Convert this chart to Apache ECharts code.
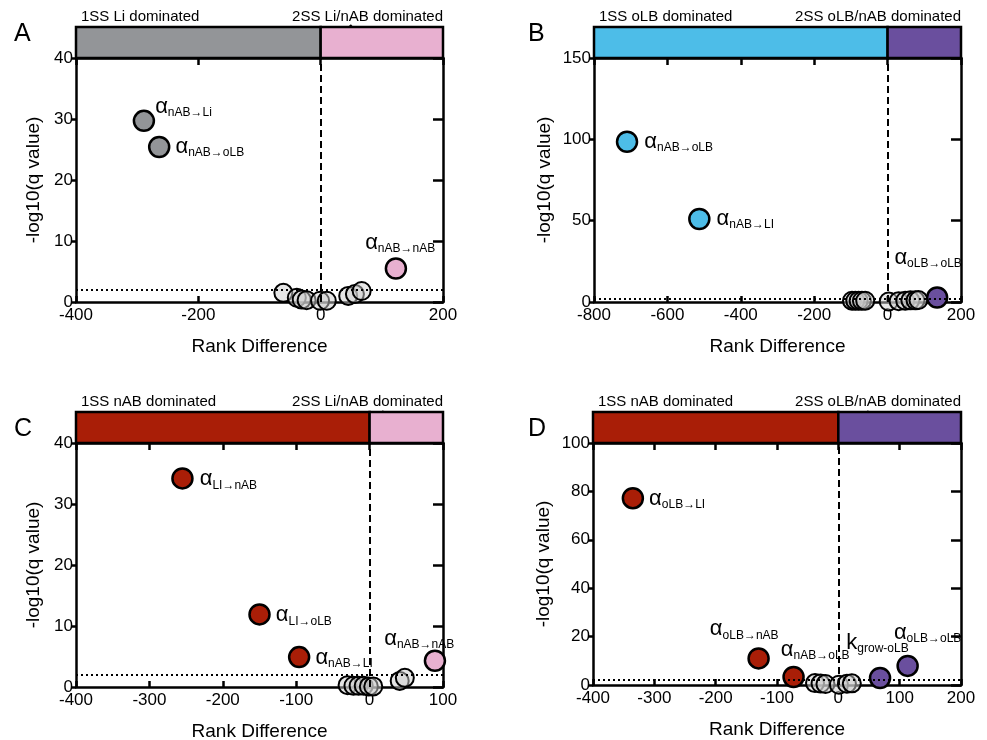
<!DOCTYPE html>
<html lang="en">
<head>
<meta charset="UTF-8" />
<title>Rank difference volcano plots</title>
<script src="https://cdn.jsdelivr.net/npm/echarts@6/dist/echarts.min.js"></script>
<style>
  html, body { margin: 0; padding: 0; background: #fff; }
  #main { width: 987px; height: 740px; }
</style>
</head>
<body>
<div id="main"></div>
<script>
const FONT = '"Liberation Sans", Arial, sans-serif';

// ---- data ----
// A
const aGreyX = [-61, -39, -31, -23, -1, 10, 45, 56, 67];
const aGreyY = [1.5, 0.7, 0.4, 0.3, 0.2, 0.2, 1.0, 1.3, 1.8];
const aHitX = [-289, -264, 123];
const aHitY = [29.7, 25.4, 5.5];
const aHitSym = ['α', 'α', 'α'];
const aHitSub = ['nAB→Li', 'nAB→oLB', 'nAB→nAB'];
// B
const bGreyX = [-97, -88, -79, -70, -61, 3, 30, 48, 62, 76, 84];
const bGreyY = [0.8, 0.8, 0.8, 0.8, 0.8, 0.3, 0.5, 0.8, 1.0, 1.0, 1.2];
const bHitX = [-710, -513, 135];
const bHitY = [98.5, 51, 2.8];
const bHitSym = ['α', 'α', 'α'];
const bHitSub = ['nAB→oLB', 'nAB→LI', 'oLB→oLB'];
// C
const cGreyX = [-30, -22, -15, -8, -1, 5, 41, 48];
const cGreyY = [0.3, 0.2, 0.2, 0.2, 0.1, 0.1, 1.0, 1.5];
const cHitX = [-255, -150, -96, 89];
const cHitY = [34.2, 11.9, 4.9, 4.3];
const cHitSym = ['α', 'α', 'α', 'α'];
const cHitSub = ['LI→nAB', 'LI→oLB', 'nAB→LI', 'nAB→nAB'];
// D
const dGreyX = [-38, -29, -21, 1, 14, 22];
const dGreyY = [0.8, 0.6, 0.4, 0.1, 0.5, 0.7];
const dHitX = [-335, -130, -73, 68, 113];
const dHitY = [77.2, 11, 3.3, 2.9, 7.9];
const dHitSym = ['α', 'α', 'α', 'k', 'α'];
const dHitSub = ['oLB→LI', 'oLB→nAB', 'nAB→oLB', 'grow-oLB', 'oLB→oLB'];

const panelLetters = ['A', 'B', 'C', 'D'];
const headerLeft = ['1SS Li dominated', '1SS oLB dominated', '1SS nAB dominated', '1SS nAB dominated'];
const headerRight = ['2SS Li/nAB dominated', '2SS oLB/nAB dominated', '2SS Li/nAB dominated', '2SS oLB/nAB dominated'];
const xRanges = [[-400, 200, 200], [-800, 200, 200], [-400, 100, 100], [-400, 200, 100]];
const yRanges = [[0, 40, 10], [0, 150, 50], [0, 40, 10], [0, 100, 20]];
const sigLine = 2; // -log10(0.01)

// ---- colours ----
const GREY = '#939598', PINK = '#e8b0d0', BLUE = '#4dbde8', PURPLE = '#6a4f9e', RED = '#a91e07';
const INK = '#000';

// ---- layout / styling per panel ----
const layout = [
  { left: 76, top: 58, width: 367, height: 244, yGap: 33, letter: [14, 22],
    head: [GREY, PINK], arrow: [350, 25, 365, 43],
    hitColor: [GREY, GREY, PINK], off: [[0, -14], [5, 0], [-42, -26]] },
  { left: 594, top: 58, width: 367, height: 244, yGap: 40, letter: [528, 22],
    head: [BLUE, PURPLE], arrow: [907, 27, 922, 44],
    hitColor: [BLUE, BLUE, PURPLE], off: [[6, 0], [6, 0], [-54, -40]] },
  { left: 76, top: 443, width: 367, height: 244, yGap: 33, letter: [14, 417],
    head: [RED, PINK], arrow: [382, 411, 397, 430],
    hitColor: [RED, RED, RED, PINK], off: [[6, 1], [5, 1], [5, 1], [-62, -22]] },
  { left: 593, top: 443, width: 368, height: 242, yGap: 40, letter: [528, 417],
    head: [RED, PURPLE], arrow: [867, 411, 883, 436],
    hitColor: [RED, RED, RED, PURPLE, PURPLE], off: [[5, 1], [-60, -29], [-24, -27], [-45, -35], [-25, -33]] }
];
const HEAD_H = 31;

const panelData = [
  [aGreyX, aGreyY, aHitX, aHitY, aHitSym, aHitSub],
  [bGreyX, bGreyY, bHitX, bHitY, bHitSym, bHitSub],
  [cGreyX, cGreyY, cHitX, cHitY, cHitSym, cHitSub],
  [dGreyX, dGreyY, dHitX, dHitY, dHitSym, dHitSub]
];

const rich = {
  a: { fontFamily: FONT, fontSize: 22, color: INK, lineHeight: 24 },
  s: { fontFamily: FONT, fontSize: 12, color: INK, lineHeight: 14, padding: [12, 0, 0, 0] }
};

const grid = [], xAxis = [], yAxis = [], series = [], graphic = [];
const lineStyle = { color: INK, width: 2.5 };

function arrow(x1, y1, x2, y2) {
  const ang = Math.atan2(y2 - y1, x2 - x1);
  const L = 11, W = 5.5;
  const bx = x2 - L * Math.cos(ang), by = y2 - L * Math.sin(ang);
  const nx = -Math.sin(ang), ny = Math.cos(ang);
  return [
    { type: 'line', shape: { x1: x1, y1: y1, x2: bx, y2: by }, style: { stroke: INK, lineWidth: 2.5 } },
    { type: 'polygon', shape: { points: [[x2, y2], [bx + nx * W, by + ny * W], [bx - nx * W, by - ny * W]] }, style: { fill: INK } }
  ];
}

layout.forEach(function (p, i) {
  const [xMin, xMax, xInt] = xRanges[i];
  const [yMin, yMax, yInt] = yRanges[i];
  const [gx, gy, hx, hy, hs, hsub] = panelData[i];

  grid.push({ left: p.left, top: p.top, width: p.width, height: p.height, containLabel: false, outerBoundsMode: 'none' });
  grid.push({ left: p.left, top: p.top - HEAD_H, width: p.width, height: HEAD_H, containLabel: false, outerBoundsMode: 'none' });
  const g = 2 * i, a = 3 * i;

  xAxis.push({
    gridIndex: g, type: 'value', position: 'bottom', min: xMin, max: xMax, interval: xInt,
    name: 'Rank Difference', nameLocation: 'middle', nameGap: 35,
    nameTextStyle: { fontFamily: FONT, fontSize: 19, color: INK },
    axisLine: { onZero: false, lineStyle: lineStyle },
    axisTick: { inside: true, length: 6, lineStyle: lineStyle },
    axisLabel: { fontFamily: FONT, fontSize: 17, color: INK, margin: 5 },
    splitLine: { show: false }
  });
  xAxis.push({
    gridIndex: g, type: 'value', position: 'top', min: xMin, max: xMax, interval: xInt,
    axisLine: { onZero: false, lineStyle: lineStyle },
    axisTick: { inside: true, length: 7, lineStyle: lineStyle },
    axisLabel: { show: false }, splitLine: { show: false }
  });
  xAxis.push({ gridIndex: g + 1, type: 'value', min: xMin, max: xMax, show: false });

  yAxis.push({
    gridIndex: g, type: 'value', position: 'left', min: yMin, max: yMax, interval: yInt,
    name: '-log10(q value)', nameLocation: 'middle', nameGap: p.yGap,
    nameTextStyle: { fontFamily: FONT, fontSize: 19, color: INK },
    axisLine: { onZero: false, lineStyle: lineStyle },
    axisTick: { inside: false, length: 5, lineStyle: lineStyle },
    axisLabel: { fontFamily: FONT, fontSize: 17, color: INK, margin: 3 },
    splitLine: { show: false }
  });
  yAxis.push({
    gridIndex: g, type: 'value', position: 'right', min: yMin, max: yMax, interval: yInt,
    axisLine: { onZero: false, lineStyle: lineStyle },
    axisTick: { inside: true, length: 10, lineStyle: lineStyle },
    axisLabel: { show: false }, splitLine: { show: false }
  });
  yAxis.push({ gridIndex: g + 1, type: 'value', min: 0, max: 1, show: false });

  // header band
  series.push({
    type: 'scatter', xAxisIndex: a + 2, yAxisIndex: a + 2, data: [], silent: true,
    markArea: {
      silent: true,
      itemStyle: { borderColor: INK, borderWidth: 2.5 },
      data: [
        [{ coord: [xMin, 0], itemStyle: { color: p.head[0], borderColor: INK, borderWidth: 2.5 } }, { coord: [0, 1] }],
        [{ coord: [0, 0], itemStyle: { color: p.head[1], borderColor: INK, borderWidth: 2.5 } }, { coord: [xMax, 1] }]
      ]
    }
  });

  // non-significant parameters + reference lines
  series.push({
    type: 'scatter', xAxisIndex: a, yAxisIndex: a, z: 2,
    data: gx.map(function (x, k) { return [x, gy[k]]; }),
    symbolSize: 18,
    itemStyle: { color: 'rgba(205,205,205,0.5)', borderColor: INK, borderWidth: 2, opacity: 1 },
    markLine: {
      silent: true, symbol: 'none', label: { show: false },
      data: [
        { yAxis: sigLine, lineStyle: { color: INK, type: [2, 3], width: 2 } },
        { xAxis: 0, lineStyle: { color: INK, type: [7, 4], width: 2 } }
      ]
    }
  });

  // significant parameters
  series.push({
    type: 'scatter', xAxisIndex: a, yAxisIndex: a, z: 3,
    symbolSize: 20,
    data: hx.map(function (x, k) {
      return {
        value: [x, hy[k]],
        itemStyle: { color: p.hitColor[k], borderColor: INK, borderWidth: 2.5, opacity: 1 },
        label: {
          show: true, position: 'right', distance: 0, offset: p.off[k], color: INK,
          formatter: '{a|' + hs[k] + '}{s|' + hsub[k] + '}', rich: rich
        }
      };
    })
  });

  // texts
  graphic.push({ type: 'text', left: p.letter[0], top: p.letter[1],
    style: { text: panelLetters[i], fontFamily: FONT, fontSize: 25, fill: INK } });
  graphic.push({ type: 'text', x: p.left + 5, y: p.top - HEAD_H - 10,
    style: { text: headerLeft[i], fontFamily: FONT, fontSize: 15, fill: INK, textAlign: 'left', textVerticalAlign: 'middle' } });
  graphic.push({ type: 'text', x: p.left + p.width, y: p.top - HEAD_H - 10,
    style: { text: headerRight[i], fontFamily: FONT, fontSize: 15, fill: INK, textAlign: 'right', textVerticalAlign: 'middle' } });
  arrow.apply(null, p.arrow).forEach(function (el) { graphic.push(el); });
});

const chart = echarts.init(document.getElementById('main'), null, { renderer: 'canvas' });
chart.setOption({
  animation: false,
  backgroundColor: '#fff',
  textStyle: { fontFamily: FONT },
  grid: grid, xAxis: xAxis, yAxis: yAxis, series: series, graphic: graphic
});
</script>
</body>
</html>
